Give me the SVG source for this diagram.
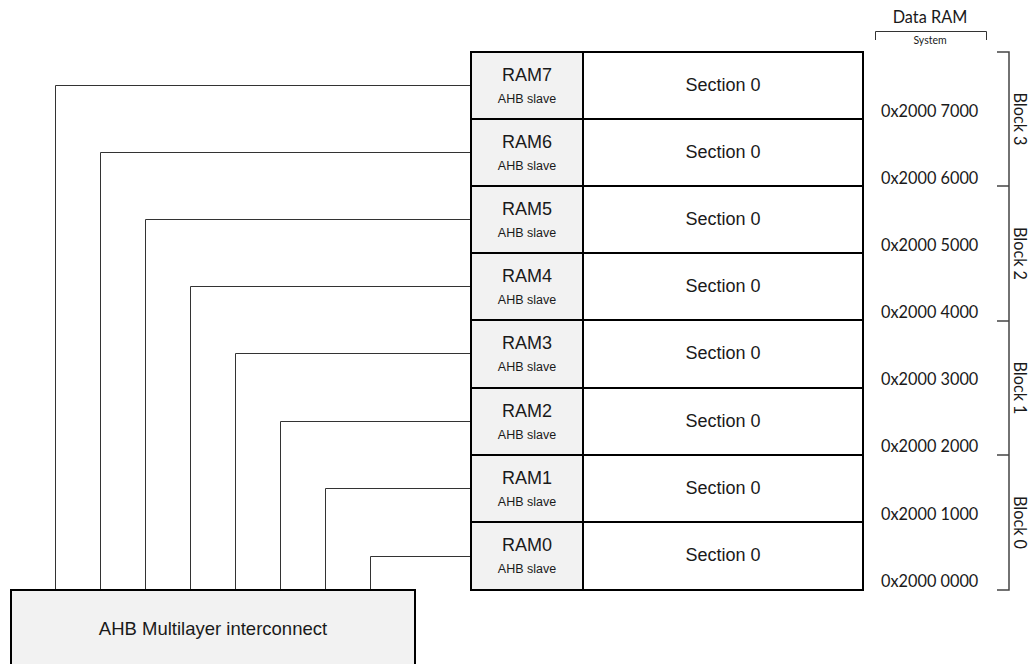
<svg xmlns="http://www.w3.org/2000/svg" width="1029" height="664" viewBox="0 0 1029 664">
<style>
.cell{fill:#f2f2f2;stroke:#000;stroke-width:2}
.sec{fill:#fff;stroke:#000;stroke-width:2}
.conn{fill:none;stroke:#333;stroke-width:1}
.brk{fill:none;stroke:#444;stroke-width:1.5}
.ram{font-family:"Liberation Sans",Arial,sans-serif;font-size:18px;fill:#1a1a1a;text-anchor:middle}
.slv{font-family:"Liberation Sans",Arial,sans-serif;font-size:12.5px;fill:#1a1a1a;text-anchor:middle}
.addr{font-family:Lato,"Open Sans",sans-serif;font-size:16.3px;fill:#1a1a1a}
.blk{font-family:Lato,"Open Sans",sans-serif;font-size:16.3px;fill:#1a1a1a;text-anchor:middle}
</style>
<rect width="1029" height="664" fill="#fff"/>
<g id="connectors">
<path class="conn" d="M55.5 590 V85.5 H471"/>
<path class="conn" d="M100.5 590 V152.5 H471"/>
<path class="conn" d="M145.5 590 V219.5 H471"/>
<path class="conn" d="M190.5 590 V286.5 H471"/>
<path class="conn" d="M235.5 590 V353.5 H471"/>
<path class="conn" d="M280.5 590 V421.5 H471"/>
<path class="conn" d="M325.5 590 V488.5 H471"/>
<path class="conn" d="M370.5 590 V556.5 H471"/>
</g>
<g id="ram7"><rect class="cell" x="471" y="52" width="112" height="67"/><rect class="sec" x="583" y="52" width="280" height="67"/><text class="ram" x="527" y="81">RAM7</text><text class="slv" x="527" y="102.5">AHB slave</text><text class="ram" x="723" y="91">Section 0</text></g>
<g id="ram6"><rect class="cell" x="471" y="119" width="112" height="67"/><rect class="sec" x="583" y="119" width="280" height="67"/><text class="ram" x="527" y="148">RAM6</text><text class="slv" x="527" y="169.5">AHB slave</text><text class="ram" x="723" y="158">Section 0</text></g>
<g id="ram5"><rect class="cell" x="471" y="186" width="112" height="67"/><rect class="sec" x="583" y="186" width="280" height="67"/><text class="ram" x="527" y="215">RAM5</text><text class="slv" x="527" y="236.5">AHB slave</text><text class="ram" x="723" y="225">Section 0</text></g>
<g id="ram4"><rect class="cell" x="471" y="253" width="112" height="67"/><rect class="sec" x="583" y="253" width="280" height="67"/><text class="ram" x="527" y="282">RAM4</text><text class="slv" x="527" y="303.5">AHB slave</text><text class="ram" x="723" y="292">Section 0</text></g>
<g id="ram3"><rect class="cell" x="471" y="320" width="112" height="68"/><rect class="sec" x="583" y="320" width="280" height="68"/><text class="ram" x="527" y="349">RAM3</text><text class="slv" x="527" y="370.5">AHB slave</text><text class="ram" x="723" y="359">Section 0</text></g>
<g id="ram2"><rect class="cell" x="471" y="388" width="112" height="67"/><rect class="sec" x="583" y="388" width="280" height="67"/><text class="ram" x="527" y="417">RAM2</text><text class="slv" x="527" y="438.5">AHB slave</text><text class="ram" x="723" y="427">Section 0</text></g>
<g id="ram1"><rect class="cell" x="471" y="455" width="112" height="67"/><rect class="sec" x="583" y="455" width="280" height="67"/><text class="ram" x="527" y="484">RAM1</text><text class="slv" x="527" y="505.5">AHB slave</text><text class="ram" x="723" y="494">Section 0</text></g>
<g id="ram0"><rect class="cell" x="471" y="522" width="112" height="68"/><rect class="sec" x="583" y="522" width="280" height="68"/><text class="ram" x="527" y="551">RAM0</text><text class="slv" x="527" y="572.5">AHB slave</text><text class="ram" x="723" y="561">Section 0</text></g>
<g id="ahb"><rect class="cell" x="11" y="590" width="404" height="80"/><text class="ram" x="213" y="635" style="font-size:18.5px">AHB Multilayer interconnect</text></g>
<g id="data-ram">
<text class="blk" x="930" y="23">Data RAM</text>
<path class="conn" d="M875.5 40 V31.5 H986.5 V40"/>
<text class="blk" x="930" y="44" style="font-size:10.5px">System</text>
</g>
<g id="addresses">
<text class="addr" x="881" y="116.5">0x2000 7000</text>
<text class="addr" x="881" y="183.6">0x2000 6000</text>
<text class="addr" x="881" y="251">0x2000 5000</text>
<text class="addr" x="881" y="317.7">0x2000 4000</text>
<text class="addr" x="881" y="385">0x2000 3000</text>
<text class="addr" x="881" y="452">0x2000 2000</text>
<text class="addr" x="881" y="519.5">0x2000 1000</text>
<text class="addr" x="881" y="586.7">0x2000 0000</text>
</g>
<g id="blocks">
<path class="brk" d="M997 52 H1009 V590 H997 M997 186 H1009 M997 321 H1009 M997 455 H1009"/>
<text class="blk" transform="translate(1014 119) rotate(90)">Block 3</text>
<text class="blk" transform="translate(1014 253.5) rotate(90)">Block 2</text>
<text class="blk" transform="translate(1014 388) rotate(90)">Block 1</text>
<text class="blk" transform="translate(1014 522.5) rotate(90)">Block 0</text>
</g>
</svg>
